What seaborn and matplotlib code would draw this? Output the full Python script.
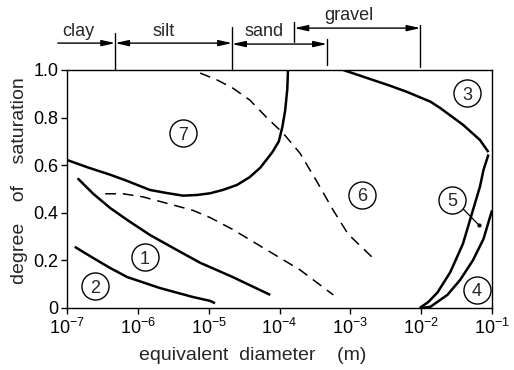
import numpy as np
import pandas as pd
import matplotlib
matplotlib.use("Agg")
import matplotlib.pyplot as plt
import matplotlib.transforms as mtransforms
from matplotlib.ticker import FixedLocator, NullLocator, FixedFormatter
import seaborn as sns

# Boundaries: log10 of equivalent diameter (m) and degree of saturation
c1_logd = [-6.85, -6.63, -6.39, -6.15, -5.83, -5.45, -5.12, -4.66, -4.13]
c1_sat = [0.545, 0.48, 0.42, 0.37, 0.307, 0.244, 0.19, 0.13, 0.055]

c2_logd = [-6.89, -6.63, -6.39, -6.15, -5.69, -5.22, -4.98, -4.91]
c2_sat = [0.257, 0.21, 0.168, 0.13, 0.084, 0.046, 0.03, 0.02]

c3_logd = [-3.10, -2.68, -2.44, -2.20, -1.87, -1.73, -1.41, -1.17, -1.05]
c3_sat = [1.0, 0.958, 0.934, 0.908, 0.867, 0.84, 0.77, 0.706, 0.655]

c4_logd = [-1.0, -1.12, -1.27, -1.45, -1.63, -1.87, -1.99]
c4_sat = [0.41, 0.29, 0.20, 0.118, 0.055, 0.005, 0.0]

c5_logd = [-1.05, -1.12, -1.17, -1.28, -1.41, -1.59, -1.77, -1.90, -2.02]
c5_sat = [0.645, 0.58, 0.51, 0.40, 0.27, 0.15, 0.065, 0.025, 0.0]

c7_logd = [-7.0, -6.70, -6.39, -6.16, -5.83, -5.59, -5.36, -5.16, -4.98,
           -4.80, -4.60, -4.42, -4.27, -4.10, -4.01, -3.96, -3.92, -3.89, -3.88]
c7_sat = [0.622, 0.59, 0.56, 0.535, 0.496, 0.483, 0.472, 0.475, 0.482,
          0.496, 0.517, 0.55, 0.59, 0.655, 0.70, 0.76, 0.83, 0.92, 1.0]

d1_logd = [-6.46, -6.21, -5.93, -5.59, -5.22, -4.98, -4.66, -4.18, -3.71, -3.24]
d1_sat = [0.48, 0.48, 0.467, 0.44, 0.41, 0.38, 0.33, 0.244, 0.16, 0.055]

d2_logd = [-5.12, -4.88, -4.66, -4.42, -4.18, -3.95, -3.71, -3.47, -3.24, -3.03, -2.68]
d2_sat = [0.987, 0.958, 0.924, 0.874, 0.80, 0.735, 0.65, 0.53, 0.41, 0.31, 0.21]

# Region numbers
region_labels = ["1", "2", "3", "4", "5", "6", "7"]
region_logd = [-5.90, -6.60, -1.35, -1.21, -1.56, -2.83, -5.36]
region_sat = [0.214, 0.092, 0.903, 0.076, 0.454, 0.475, 0.735]

# Leader from label 5 to its curve
leader_logd = [-1.42, -1.19]
leader_sat = [0.42, 0.35]

# Soil classes along the diameter axis (log10 m)
class_names = ["clay", "silt", "sand", "gravel"]
class_label_logd = [-6.84, -5.63, -4.22, -3.02]
clay_start = -7.13
clay_silt = -6.32
silt_sand = -4.67
sand_end = -3.33
gravel_start = -3.79
gravel_end = -2.01

x_exponents = [-7, -6, -5, -4, -3, -2, -1]
y_ticks = [0, 0.2, 0.4, 0.6, 0.8, 1.0]
y_ticklabels = ["0", "0.2", "0.4", "0.6", "0.8", "1.0"]

sns.set_theme(style="ticks")
plt.rcParams["font.family"] = ["Liberation Sans", "DejaVu Sans"]
plt.rcParams["mathtext.fontset"] = "custom"
plt.rcParams["mathtext.rm"] = "Liberation Sans"
plt.rcParams["mathtext.it"] = "Liberation Sans:italic"
plt.rcParams["mathtext.bf"] = "Liberation Sans:bold"
plt.rcParams["axes.unicode_minus"] = False

fig = plt.figure(figsize=(5.14, 3.70), dpi=100)
ax = fig.add_axes([67 / 514, 62 / 370, 425 / 514, 238 / 370])
ax.set_xscale("log")


def curve(logd, sat, dashed=False):
    df = pd.DataFrame({"d": np.power(10.0, np.asarray(logd)), "s": sat})
    if dashed:
        sns.lineplot(data=df, x="d", y="s", sort=False, estimator=None, ax=ax,
                     color="black", lw=1.1, linestyle=(0, (7, 4.5)))
    else:
        sns.lineplot(data=df, x="d", y="s", sort=False, estimator=None, ax=ax,
                     color="black", lw=1.8, solid_capstyle="butt",
                     solid_joinstyle="round")


for lg, st in [(c1_logd, c1_sat), (c2_logd, c2_sat), (c3_logd, c3_sat),
               (c4_logd, c4_sat), (c5_logd, c5_sat), (c7_logd, c7_sat)]:
    curve(lg, st)
curve(d1_logd, d1_sat, dashed=True)
curve(d2_logd, d2_sat, dashed=True)

# leader line for region 5
ax.plot(np.power(10.0, leader_logd), leader_sat, color="black", lw=0.9)
ax.plot(10.0 ** leader_logd[1], leader_sat[1], "o", color="black", ms=2)

# circled region numbers
lab_df = pd.DataFrame({"d": np.power(10.0, region_logd), "s": region_sat})
sns.scatterplot(data=lab_df, x="d", y="s", ax=ax, s=380, facecolor="white",
                edgecolor="black", linewidth=1.0, zorder=5)
for t, lg, st in zip(region_labels, region_logd, region_sat):
    ax.text(10.0 ** lg, st, t, ha="center", va="center_baseline",
            fontsize=13, zorder=6)

ax.set_xlim(1e-7, 1e-1)
ax.set_ylim(0, 1)
ax.xaxis.set_major_locator(FixedLocator([10.0 ** e for e in x_exponents]))
ax.xaxis.set_major_formatter(FixedFormatter([f"$10^{{{e}}}$" for e in x_exponents]))
ax.xaxis.set_minor_locator(NullLocator())
ax.yaxis.set_major_locator(FixedLocator(y_ticks))
ax.yaxis.set_major_formatter(FixedFormatter(y_ticklabels))
ax.tick_params(direction="out", length=4, width=1, pad=2, labelsize=13,
               colors="black")
ax.tick_params(axis="x", pad=3)
for sp in ax.spines.values():
    sp.set_visible(True)
    sp.set_color("black")
    sp.set_linewidth(1.0)
ax.set_xlabel("")
ax.set_ylabel("")

fig.text(253 / 514, 1 - 355 / 370, "equivalent  diameter    (m)", ha="center",
         va="center", fontsize=14)
fig.text(20 / 514, 1 - 181 / 370, "degree    of    saturation", ha="center",
         va="center", rotation=90, fontsize=14)

# soil-class bars above the plot
trans = mtransforms.blended_transform_factory(ax.transData, ax.transAxes)


def vline(logd, y0, y1):
    ax.plot([10.0 ** logd] * 2, [y0, y1], color="black", lw=1.0,
            transform=trans, clip_on=False)


vline(clay_silt, 1.0, 1.155)
vline(silt_sand, 1.0, 1.181)
vline(sand_end, 1.021, 1.130)
vline(gravel_start, 1.118, 1.202)
vline(gravel_end, 1.013, 1.189)


def arrow(a, b, y, style):
    ax.annotate("", xy=(10.0 ** b, y), xytext=(10.0 ** a, y), xycoords=trans,
                textcoords=trans, annotation_clip=False,
                arrowprops=dict(arrowstyle=style, color="black", lw=1.0,
                                shrinkA=0, shrinkB=0, mutation_scale=10))


head = "head_length=0.8,head_width=0.18"
arrow(clay_start, clay_silt, 1.113, "-|>," + head)
arrow(clay_silt, silt_sand, 1.113, "<|-|>," + head)
arrow(silt_sand, sand_end, 1.109, "<|-|>," + head)
arrow(gravel_start, gravel_end, 1.176, "<|-|>," + head)

class_label_y = [1.134, 1.134, 1.134, 1.202]
for name, lg, yy in zip(class_names, class_label_logd, class_label_y):
    ax.text(10.0 ** lg, yy + 0.01, name, transform=trans, ha="center",
            va="baseline", fontsize=13, clip_on=False)

fig.savefig("out.png", dpi=100)
